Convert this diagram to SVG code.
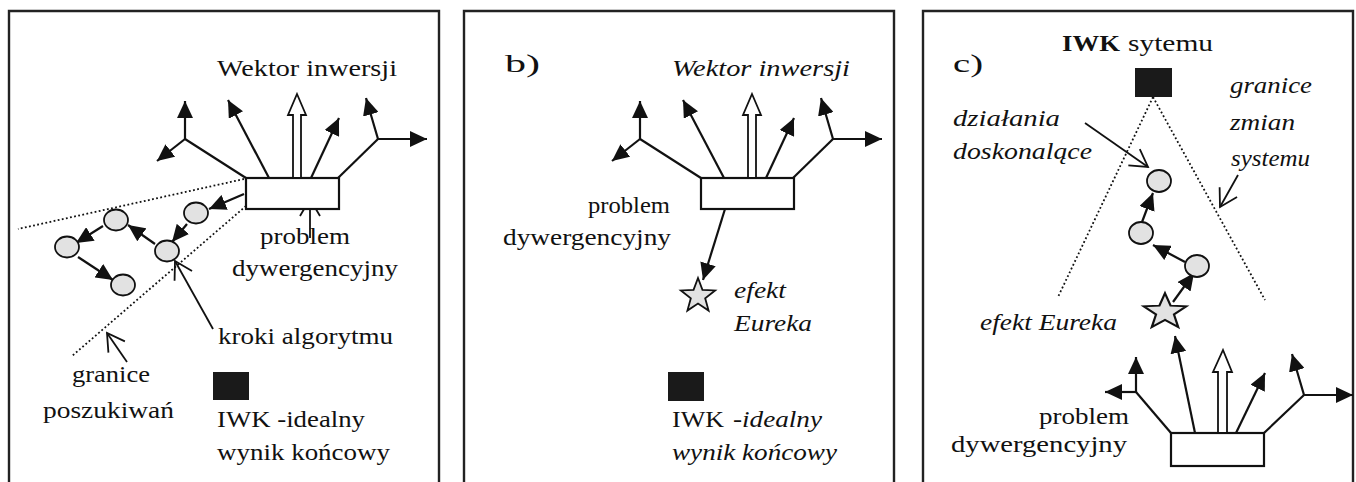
<svg xmlns="http://www.w3.org/2000/svg" width="1356" height="482" viewBox="0 0 1356 482">
  <style>
    text { font-family: "Liberation Serif", "Times New Roman", serif; font-size: 23px; fill: #111; }
    .it { font-style: italic; }
    .bd { font-weight: bold; }
    .lbl { font-size: 26px; }
    .frame { fill: none; stroke: #222; stroke-width: 2.4; }
    .ln { fill: none; stroke: #111; stroke-width: 2.2; }
    .arr { fill: none; stroke: #111; stroke-width: 2.2; marker-end: url(#head); }
    .ptr { fill: none; stroke: #111; stroke-width: 1.8; marker-end: url(#open); }
    .dot { fill: none; stroke: #111; stroke-width: 1.8; stroke-dasharray: 1.8 2.4; }
    .box { fill: #fff; stroke: #111; stroke-width: 2.2; }
    .hollow { fill: #fff; stroke: #111; stroke-width: 1.8; }
    .step { fill: #e2e2e2; stroke: #111; stroke-width: 1.8; }
    .ideal { fill: #1a1a1a; }
  </style>
  <defs>
    <marker id="head" markerUnits="userSpaceOnUse" markerWidth="18" markerHeight="16" refX="17" refY="8" orient="auto" viewBox="0 0 18 16">
      <path d="M0,0 L17,8 L0,16 z" fill="#111"/>
    </marker>
    <marker id="open" markerUnits="userSpaceOnUse" markerWidth="20" markerHeight="22" refX="18" refY="11" orient="auto" viewBox="0 0 20 22">
      <path d="M1,1 L18,11 L1,21" fill="none" stroke="#111" stroke-width="1.8"/>
    </marker>
    <polygon id="star" points="0,-18 4.45,-6.12 17.12,-5.56 7.18,2.34 10.58,14.56 0,7.56 -10.58,14.56 -7.18,2.34 -17.12,-5.56 -4.45,-6.12" fill="#e2e2e2" stroke="#111" stroke-width="1.8" stroke-linejoin="miter"/>
  </defs>

  <!-- panel frames, open at the bottom -->
  <g id="frames">
    <path class="frame" d="M9,482 V11 H439 V482"/>
    <path class="frame" d="M464,482 V11 H894 V482"/>
    <path class="frame" d="M923,482 V11 H1353 V482"/>
  </g>

  <!-- ===== panel a ===== -->
  <g id="a-boundaries">
    <line class="dot" x1="244" y1="179" x2="18" y2="229"/>
    <line class="dot" x1="246" y1="206" x2="72" y2="356"/>
  </g>
  <g id="a-connectors">
    <polyline class="ln" points="246,178 185,139"/>
    <line class="arr" x1="185" y1="139" x2="185" y2="101"/>
    <line class="arr" x1="185" y1="139" x2="157" y2="161"/>
    <line class="arr" x1="269" y1="178" x2="228" y2="100"/>
    <line class="arr" x1="311" y1="178" x2="339" y2="118"/>
    <polyline class="ln" points="338,178 378,139"/>
    <line class="arr" x1="378" y1="139" x2="366" y2="98"/>
    <line class="arr" x1="378" y1="139" x2="427" y2="139"/>
    <line class="arr" x1="244" y1="194" x2="209" y2="209"/>
    <line class="arr" x1="187" y1="224" x2="172" y2="242"/>
    <line class="arr" x1="155" y1="244" x2="128" y2="225"/>
    <line class="arr" x1="103" y1="226" x2="76" y2="243"/>
    <line class="arr" x1="78" y1="257" x2="113" y2="280"/>
    <line class="ptr" x1="310" y1="238" x2="310" y2="199"/>
    <line class="ptr" x1="213" y1="329" x2="175" y2="261"/>
    <line class="ptr" x1="127" y1="362" x2="107" y2="333"/>
  </g>
  <g id="a-problem">
    <rect class="box" x="246" y="178" width="93" height="31"/>
    <polygon class="hollow" points="297,94 306,115 301,115 301,178 293,178 293,115 288,115"/>
  </g>
  <g id="a-steps">
    <ellipse class="step" cx="196" cy="213" rx="12" ry="10.5"/>
    <ellipse class="step" cx="116" cy="220" rx="12" ry="10.5"/>
    <ellipse class="step" cx="67" cy="247" rx="12" ry="10.5"/>
    <ellipse class="step" cx="167" cy="251" rx="12" ry="10.5"/>
    <ellipse class="step" cx="123" cy="285" rx="12" ry="10.5"/>
  </g>
  <g id="a-ideal">
    <rect class="ideal" x="213" y="372" width="36" height="28"/>
  </g>
  <g id="a-labels">
    <text x="217" y="76" textLength="180" lengthAdjust="spacingAndGlyphs">Wektor inwersji</text>
    <text x="260" y="244" textLength="90" lengthAdjust="spacingAndGlyphs">problem</text>
    <text x="232" y="276" textLength="166" lengthAdjust="spacingAndGlyphs">dywergencyjny</text>
    <text x="218" y="344" textLength="175" lengthAdjust="spacingAndGlyphs">kroki algorytmu</text>
    <text x="72" y="382" textLength="78" lengthAdjust="spacingAndGlyphs">granice</text>
    <text x="43" y="418" textLength="131" lengthAdjust="spacingAndGlyphs">poszukiwań</text>
    <text x="217" y="427" textLength="148" lengthAdjust="spacingAndGlyphs">IWK -idealny</text>
    <text x="217" y="460" textLength="173" lengthAdjust="spacingAndGlyphs">wynik końcowy</text>
  </g>

  <!-- ===== panel b ===== -->
  <g id="b-connectors">
    <polyline class="ln" points="701,178 640,139"/>
    <line class="arr" x1="640" y1="139" x2="640" y2="101"/>
    <line class="arr" x1="640" y1="139" x2="612" y2="161"/>
    <line class="arr" x1="724" y1="178" x2="683" y2="100"/>
    <line class="arr" x1="766" y1="178" x2="794" y2="118"/>
    <polyline class="ln" points="793,178 833,139"/>
    <line class="arr" x1="833" y1="139" x2="821" y2="98"/>
    <line class="arr" x1="833" y1="139" x2="882" y2="139"/>
    <line class="arr" x1="725" y1="209" x2="703" y2="280"/>
  </g>
  <g id="b-problem">
    <rect class="box" x="701" y="178" width="93" height="31"/>
    <polygon class="hollow" points="752,94 761,115 756,115 756,178 748,178 748,115 743,115"/>
  </g>
  <g id="b-eureka">
    <use href="#star" transform="translate(698,296)"/>
  </g>
  <g id="b-ideal">
    <rect class="ideal" x="668" y="372" width="36" height="29"/>
  </g>
  <g id="b-labels">
    <text class="lbl" x="505" y="72" textLength="35" lengthAdjust="spacingAndGlyphs">b)</text>
    <text class="it" x="672" y="76" textLength="178" lengthAdjust="spacingAndGlyphs">Wektor inwersji</text>
    <text x="588" y="213" textLength="82" lengthAdjust="spacingAndGlyphs">problem</text>
    <text x="503" y="245" textLength="168" lengthAdjust="spacingAndGlyphs">dywergencyjny</text>
    <text class="it" x="734" y="298" textLength="52" lengthAdjust="spacingAndGlyphs">efekt</text>
    <text class="it" x="734" y="331" textLength="78" lengthAdjust="spacingAndGlyphs">Eureka</text>
    <text x="672" y="427" textLength="52" lengthAdjust="spacingAndGlyphs">IWK</text>
    <text class="it" x="733" y="427" textLength="89" lengthAdjust="spacingAndGlyphs">-idealny</text>
    <text class="it" x="672" y="460" textLength="165" lengthAdjust="spacingAndGlyphs">wynik końcowy</text>
  </g>

  <!-- ===== panel c ===== -->
  <g id="c-boundaries">
    <line class="dot" x1="1153" y1="97" x2="1058" y2="297"/>
    <line class="dot" x1="1153" y1="97" x2="1265" y2="300"/>
  </g>
  <g id="c-connectors">
    <polyline class="ln" points="1171,433 1136,392"/>
    <line class="arr" x1="1136" y1="392" x2="1136" y2="357"/>
    <line class="arr" x1="1136" y1="392" x2="1105" y2="392"/>
    <line class="arr" x1="1195" y1="433" x2="1175" y2="336"/>
    <line class="arr" x1="1236" y1="433" x2="1265" y2="373"/>
    <polyline class="ln" points="1264,433 1304,395"/>
    <line class="arr" x1="1304" y1="395" x2="1292" y2="354"/>
    <line class="arr" x1="1304" y1="395" x2="1353" y2="395"/>
    <line class="arr" x1="1173" y1="302" x2="1194" y2="273"/>
    <line class="arr" x1="1185" y1="262" x2="1153" y2="245"/>
    <line class="arr" x1="1142" y1="222" x2="1153" y2="193"/>
    <line class="ptr" x1="1085" y1="123" x2="1148" y2="167"/>
    <line class="ptr" x1="1238" y1="175" x2="1220" y2="207"/>
  </g>
  <g id="c-problem">
    <rect class="box" x="1171" y="433" width="93" height="33"/>
    <polygon class="hollow" points="1223,350 1232,372 1227,372 1227,433 1218,433 1218,372 1213,372"/>
  </g>
  <g id="c-steps">
    <ellipse class="step" cx="1159" cy="181" rx="12" ry="11"/>
    <ellipse class="step" cx="1141" cy="233" rx="12" ry="11"/>
    <ellipse class="step" cx="1197" cy="266" rx="12" ry="11"/>
  </g>
  <g id="c-eureka">
    <use href="#star" transform="translate(1165,312) scale(1.25,1.04)"/>
  </g>
  <g id="c-ideal">
    <rect class="ideal" x="1135" y="68" width="37" height="29"/>
  </g>
  <g id="c-labels">
    <text class="bd" x="1062" y="51" textLength="58" lengthAdjust="spacingAndGlyphs">IWK</text>
    <text x="1128" y="51" textLength="85" lengthAdjust="spacingAndGlyphs">sytemu</text>
    <text class="lbl" x="953" y="72" textLength="30" lengthAdjust="spacingAndGlyphs">c)</text>
    <text class="it" x="1230" y="93" textLength="82" lengthAdjust="spacingAndGlyphs">granice</text>
    <text class="it" x="1230" y="130" textLength="65" lengthAdjust="spacingAndGlyphs">zmian</text>
    <text class="it" x="1231" y="166" textLength="79" lengthAdjust="spacingAndGlyphs">systemu</text>
    <text class="it" x="953" y="126" textLength="107" lengthAdjust="spacingAndGlyphs">działania</text>
    <text class="it" x="953" y="159" textLength="139" lengthAdjust="spacingAndGlyphs">doskonalące</text>
    <text class="it" x="980" y="330" textLength="137" lengthAdjust="spacingAndGlyphs">efekt Eureka</text>
    <text x="1039" y="424" textLength="90" lengthAdjust="spacingAndGlyphs">problem</text>
    <text x="951" y="452" textLength="176" lengthAdjust="spacingAndGlyphs">dywergencyjny</text>
  </g>
</svg>
